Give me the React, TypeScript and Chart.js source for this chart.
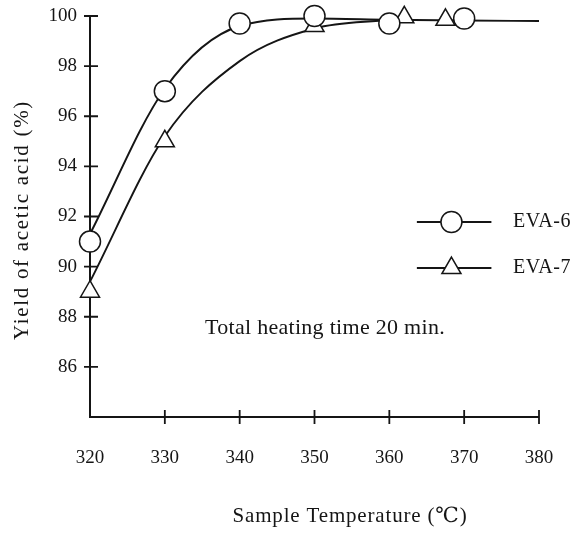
import React, { useEffect, useRef } from "react";
import { Chart, registerables } from "chart.js";
Chart.register(...registerables);

// ---- data ----
const curveTemps = [320, 330, 340, 350, 360, 370, 380];
const eva6Curve = [91.3, 97.1, 99.6, 99.9, 99.85, 99.82, 99.8];
const eva7CurveTemps = [320, 330, 340, 350, 360];
const eva7Curve = [89.4, 95.2, 98.2, 99.5, 99.85];

const eva6Temps = [320, 330, 340, 350, 360, 370];
const eva6Yield = [91, 97, 99.7, 100, 99.7, 99.9];
const eva7Temps = [320, 330, 350, 362, 367.5];
const eva7Yield = [89, 95, 99.6, 99.95, 99.85];

const xTicks = [320, 330, 340, 350, 360, 370, 380];
const yTicks = [86, 88, 90, 92, 94, 96, 98, 100];

const seriesNames = ["EVA-6", "EVA-7"];
const xTitle = "Sample Temperature (℃)";
const yTitle = "Yield of acetic acid (%)";
const note = "Total heating time 20 min.";

const INK = "#151515";
const FONT = "'Liberation Serif', 'DejaVu Serif', serif";

function pts(xs: number[], ys: number[]) {
  return xs.map((x, i) => ({ x, y: ys[i] }));
}

function spacedText(ctx: CanvasRenderingContext2D, text: string, x: number, y: number, target: number) {
  ctx.letterSpacing = "0px";
  const w = ctx.measureText(text).width;
  const n = [...text].length;
  const ls = (target - w) / n;
  ctx.letterSpacing = ls + "px";
  ctx.textAlign = "left";
  ctx.fillText(text, x - target / 2, y);
  ctx.letterSpacing = "0px";
}

const decor = {
  id: "decor",
  beforeDatasetsDraw(chart: any) {
    const { ctx, scales } = chart;
    const xs = scales.x, ys = scales.y;
    const x0 = xs.getPixelForValue(xTicks[0]);
    const xr = xs.getPixelForValue(xTicks[xTicks.length - 1]);
    const yb = ys.getPixelForValue(ys.min);
    const yt = ys.getPixelForValue(yTicks[yTicks.length - 1]);
    ctx.save();
    ctx.strokeStyle = INK;
    ctx.lineWidth = 2;
    ctx.beginPath();
    ctx.moveTo(x0, yt);
    ctx.lineTo(x0, yb);
    ctx.lineTo(xr, yb);
    ctx.stroke();
    ctx.lineWidth = 1.8;
    ctx.beginPath();
    for (const v of yTicks) {
      const py = ys.getPixelForValue(v);
      ctx.moveTo(x0 - 6, py);
      ctx.lineTo(x0 + 8, py);
    }
    for (const v of xTicks.slice(1)) {
      const px = xs.getPixelForValue(v);
      ctx.moveTo(px, yb - 7);
      ctx.lineTo(px, yb + 7);
    }
    ctx.stroke();
    ctx.restore();
  },
  afterDatasetsDraw(chart: any) {
    const { ctx, chartArea } = chart;
    const { left, right } = chartArea;
    const W = right - left;
    ctx.save();
    ctx.fillStyle = INK;
    ctx.textBaseline = "middle";
    // note
    ctx.font = `22px ${FONT}`;
    spacedText(ctx, note, 325, 328, 240);
    // x title
    ctx.font = `21px ${FONT}`;
    spacedText(ctx, xTitle, 350, 516, 235);
    // y title
    ctx.save();
    ctx.translate(22, 220);
    ctx.rotate(-Math.PI / 2);
    ctx.font = `21px ${FONT}`;
    spacedText(ctx, yTitle, 0, 0, 240);
    ctx.restore();
    // legend
    const lx0 = left + W * 0.728, lx1 = left + W * 0.894, lcx = left + W * 0.805;
    const rows = [222, 268];
    ctx.strokeStyle = INK;
    ctx.lineWidth = 1.8;
    rows.forEach((ry, i) => {
      ctx.beginPath();
      ctx.moveTo(lx0, ry);
      ctx.lineTo(lx1, ry);
      ctx.stroke();
      ctx.fillStyle = "#fff";
      ctx.lineWidth = 1.5;
      ctx.beginPath();
      if (i === 0) {
        ctx.arc(lcx, ry, 10.5, 0, Math.PI * 2);
      } else {
        const r = 11;
        ctx.moveTo(lcx, ry - r);
        ctx.lineTo(lcx + r * Math.sin(Math.PI / 3), ry + r / 2);
        ctx.lineTo(lcx - r * Math.sin(Math.PI / 3), ry + r / 2);
        ctx.closePath();
      }
      ctx.fill();
      ctx.stroke();
      ctx.lineWidth = 1.8;
      ctx.fillStyle = INK;
      ctx.font = `20px ${FONT}`;
      spacedText(ctx, seriesNames[i], 542, ry, 58);
    });
    ctx.restore();
  },
};

export default function App() {
  const ref = useRef<HTMLCanvasElement | null>(null);
  useEffect(() => {
    if (!ref.current) return;
    Chart.defaults.font.family = FONT;
    const chart = new Chart(ref.current, {
      type: "line",
      data: {
        datasets: [
          {
            label: seriesNames[0] + " markers",
            data: pts(eva6Temps, eva6Yield),
            showLine: false,
            pointStyle: "circle",
            pointRadius: 10.5,
            pointBackgroundColor: "#fff",
            pointBorderColor: INK,
            pointBorderWidth: 1.5,
            order: 0,
            clip: false,
          } as any,
          {
            label: seriesNames[1] + " markers",
            data: pts(eva7Temps, eva7Yield),
            showLine: false,
            pointStyle: "triangle",
            pointRadius: 11,
            pointBackgroundColor: "#fff",
            pointBorderColor: INK,
            pointBorderWidth: 1.5,
            order: 0,
            clip: false,
          } as any,
          {
            label: seriesNames[0],
            data: pts(curveTemps, eva6Curve),
            borderColor: INK,
            borderWidth: 1.9,
            pointRadius: 0,
            cubicInterpolationMode: "monotone",
            order: 1,
            clip: false,
          } as any,
          {
            label: seriesNames[1],
            data: pts(eva7CurveTemps, eva7Curve),
            borderColor: INK,
            borderWidth: 1.9,
            pointRadius: 0,
            cubicInterpolationMode: "monotone",
            order: 1,
            clip: false,
          } as any,
        ],
      },
      options: {
        responsive: false,
        animation: false,
        layout: { padding: { left: 0, right: 38, top: 16, bottom: 0 } },
        plugins: { legend: { display: false }, tooltip: { enabled: false } },
        scales: {
          x: {
            type: "linear",
            min: 320,
            max: 380,
            afterBuildTicks: (s: any) => {
              s.ticks = xTicks.map((v) => ({ value: v }));
            },
            afterFit: (s: any) => {
              s.height = 118;
              s.paddingLeft = 0;
              s.paddingRight = 0;
            },
            grid: { display: false, drawTicks: false },
            border: { display: false },
            ticks: {
              padding: 30,
              color: INK,
              font: { size: 19, family: FONT },
            },
          },
          y: {
            type: "linear",
            min: 84,
            max: 100,
            afterBuildTicks: (s: any) => {
              s.ticks = yTicks.map((v) => ({ value: v }));
            },
            afterFit: (s: any) => {
              s.width = 90;
              s.paddingTop = 0;
              s.paddingBottom = 0;
            },
            grid: { display: false, drawTicks: false },
            border: { display: false },
            ticks: {
              padding: 13,
              color: INK,
              font: { size: 19, family: FONT },
            },
          },
        },
      },
      plugins: [decor],
    } as any);
    return () => chart.destroy();
  }, []);
  return (
    <div style={{ position: "fixed", left: 0, top: 0, width: 577, height: 535, background: "#fff" }}>
      <canvas ref={ref} width={577} height={535} style={{ width: 577, height: 535, display: "block" }} />
    </div>
  );
}
